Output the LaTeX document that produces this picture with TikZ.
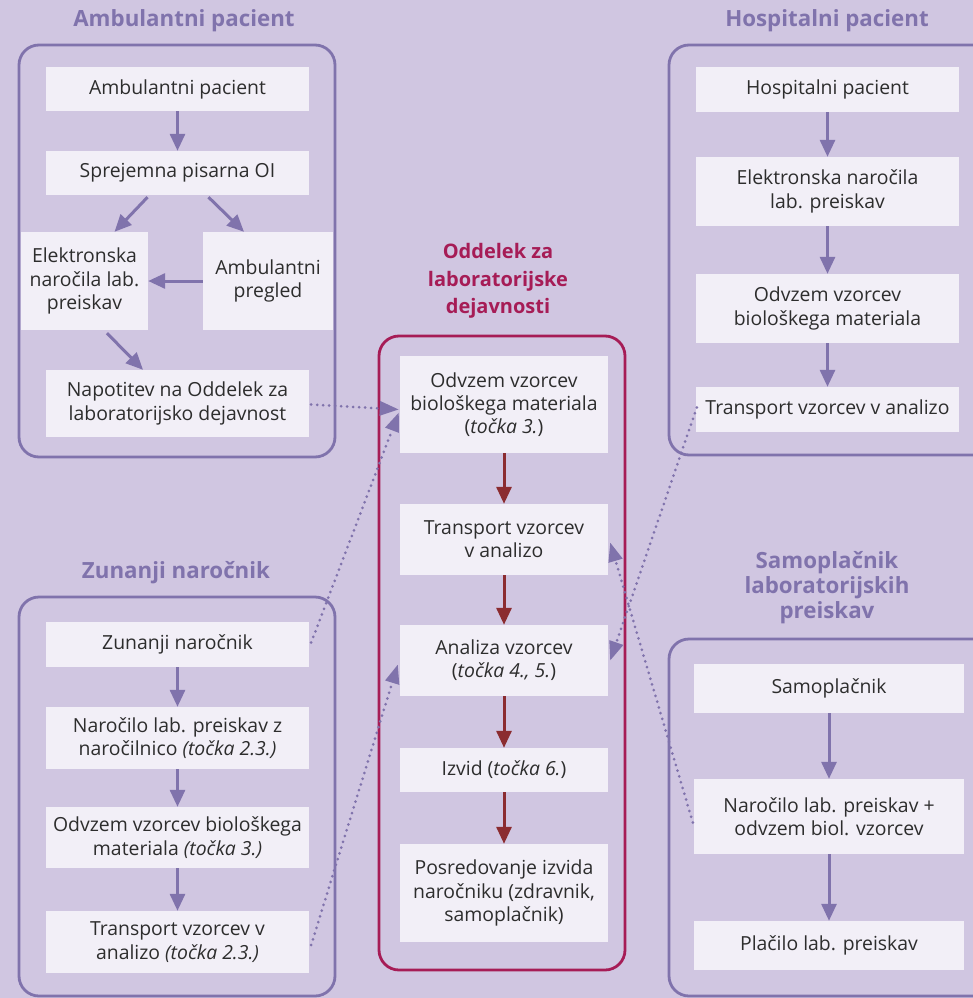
\documentclass[tikz,border=0pt]{standalone}
\usepackage{fontspec}
\setmainfont{Open Sans}
\usetikzlibrary{arrows.meta}
\definecolor{bgc}{RGB}{208,198,225}
\definecolor{boxc}{RGB}{242,239,247}
\definecolor{purp}{RGB}{128,115,172}
\definecolor{crim}{RGB}{166,28,86}
\definecolor{dred}{RGB}{139,44,48}
\definecolor{txt}{RGB}{45,45,45}
\tikzset{
  box/.style={fill=boxc, draw=none, inner sep=2pt, align=center, text=txt,
    font=\fontsize{19.4}{23.3}\selectfont},
  frame/.style={draw=purp, line width=2.8pt, rounded corners=20pt},
  cframe/.style={draw=crim, line width=2.8pt, rounded corners=20pt},
  ttl/.style={align=center, text=purp, font=\fontsize{22.3}{25}\selectfont\bfseries},
  cttl/.style={align=center, text=crim, font=\fontsize{20}{27.5}\selectfont\bfseries},
  arr/.style={draw=purp, line width=3pt, -{Triangle[length=17pt,width=15pt]}},
  rarr/.style={draw=dred, line width=3pt, -{Triangle[length=17pt,width=15pt]}},
  dotc/.style={draw=purp, line width=3pt, line cap=round, dash pattern=on 0pt off 6pt,
    -{Triangle[length=19pt,width=14pt]}}
}
\begin{document}
\begin{tikzpicture}[x=1pt,y=-1pt]
\fill[bgc] (0,0) rectangle (973,998);
\useasboundingbox (0,0) rectangle (973,998);

% frames
\draw[frame] (19,45) rectangle (335,457);
\draw[cframe] (379,336) rectangle (625,970);
\draw[frame] (669,45) rectangle (1000,455);
\draw[frame] (19,597) rectangle (335,996);
\draw[frame] (669,639) rectangle (1000,996);

% titles
\node[ttl] (tA) at (184,21) {Ambulantni pacient};
\node[ttl] (tH) at (827,21) {Hospitalni pacient};
\node[ttl] (tZ) at (176,573) {Zunanji naročnik};
\node[ttl] (tS) at (827,588) {Samoplačnik\\laboratorijskih\\preiskav};
\node[cttl] (tC) at (498,281) {Oddelek za\\laboratorijske\\dejavnosti};

% Ambulantni
\node[box, minimum width=263pt, minimum height=44pt] (a1) at (177.5,89) {Ambulantni pacient};
\node[box, minimum width=263pt, minimum height=44pt] (a2) at (177.5,173) {Sprejemna pisarna OI};
\node[box, minimum width=127pt, minimum height=98pt] (a3) at (84.5,281) {Elektronska\\naročila lab.\\preiskav};
\node[box, minimum width=130pt, minimum height=98pt] (a4) at (268,281) {Ambulantni\\pregled};
\node[box, minimum width=263pt, minimum height=67pt] (a5) at (177.5,403.5) {Napotitev na Oddelek za\\laboratorijsko dejavnost};

% Center
\node[box, minimum width=208pt, minimum height=97pt] (c1) at (504,404.5) {Odvzem vzorcev\\biološkega materiala\\(\textit{točka 3.})};
\node[box, minimum width=208pt, minimum height=71pt] (c2) at (504,539.5) {Transport vzorcev\\v analizo};
\node[box, minimum width=208pt, minimum height=71pt] (c3) at (504,660.5) {Analiza vzorcev\\(\textit{točka 4., 5.})};
\node[box, minimum width=208pt, minimum height=44pt] (c4) at (504,770) {Izvid (\textit{točka 6.})};
\node[box, minimum width=208pt, minimum height=98pt] (c5) at (504,893) {Posredovanje izvida\\naročniku (zdravnik,\\samoplačnik)};

% Hospitalni
\node[box, minimum width=263pt, minimum height=45pt] (h1) at (827.5,89.5) {Hospitalni pacient};
\node[box, minimum width=263pt, minimum height=69pt] (h2) at (827.5,191.5) {Elektronska naročila\\lab. preiskav};
\node[box, minimum width=263pt, minimum height=69pt] (h3) at (827.5,308.5) {Odvzem vzorcev\\biološkega materiala};
\node[box, minimum width=263pt, minimum height=45pt] (h4) at (827.5,409.5) {Transport vzorcev v analizo};

% Zunanji
\node[box, minimum width=263pt, minimum height=45pt] (z1) at (177.5,644.5) {Zunanji naročnik};
\node[box, minimum width=263pt, minimum height=62pt] (z2) at (177.5,738) {Naročilo lab. preiskav z\\naročilnico \textit{(točka 2.3.)}};
\node[box, minimum width=263pt, minimum height=61pt] (z3) at (177.5,837.5) {Odvzem vzorcev biološkega\\materiala \textit{(točka 3.)}};
\node[box, minimum width=263pt, minimum height=62pt] (z4) at (177.5,942) {Transport vzorcev v\\analizo \textit{(točka 2.3.)}};

% Samoplacnik
\node[box, minimum width=270pt, minimum height=49pt] (s1) at (829,688.5) {Samoplačnik};
\node[box, minimum width=270pt, minimum height=75pt] (s2) at (829,816.5) {Naročilo lab. preiskav +\\odvzem biol. vzorcev};
\node[box, minimum width=270pt, minimum height=49pt] (s3) at (829,945.5) {Plačilo lab. preiskav};

% solid arrows
\draw[arr] (a1) -- (a2);
\draw[arr] ([xshift=-30pt,yshift=-2pt]a2.south) -- ([xshift=30pt]a3.north);
\draw[arr] ([xshift=31pt,yshift=-2pt]a2.south) -- ([xshift=-24pt]a4.north);
\draw[arr] (a4.west) -- (a3.east);
\draw[arr] ([xshift=22.5pt,yshift=-3pt]a3.south) -- ([xshift=-34.5pt]a5.north);

\draw[rarr] (c1) -- (c2);
\draw[rarr] (c2) -- (c3);
\draw[rarr] (c3) -- (c4);
\draw[rarr] (c4) -- (c5);

\draw[arr] (h1) -- (h2);
\draw[arr] (h2) -- (h3);
\draw[arr] (h3) -- (h4);

\draw[arr] (z1) -- (z2);
\draw[arr] (z2) -- (z3);
\draw[arr] (z3) -- (z4);

\draw[arr] (s1) -- (s2);
\draw[arr] (s2) -- (s3);

% dotted connectors
\draw[dotc] ([xshift=2pt,yshift=-1pt]a5.east) -- ([xshift=-1pt,yshift=-5pt]c1.west);
\draw[dotc] ([xshift=2pt,yshift=2pt]z1.east) -- ([xshift=-1pt,yshift=-8pt]c1.west);
\draw[dotc] ([xshift=2pt,yshift=-3pt]z4.east) -- ([xshift=-2pt,yshift=-4pt]c3.west);
\draw[dotc] ([xshift=1pt,yshift=2pt]h4.west) -- ([xshift=2pt]c3.east);
\draw[dotc] ([xshift=-1pt,yshift=-6pt]s2.west) -- ([xshift=2pt,yshift=-3pt]c2.east);
\end{tikzpicture}
\end{document}
